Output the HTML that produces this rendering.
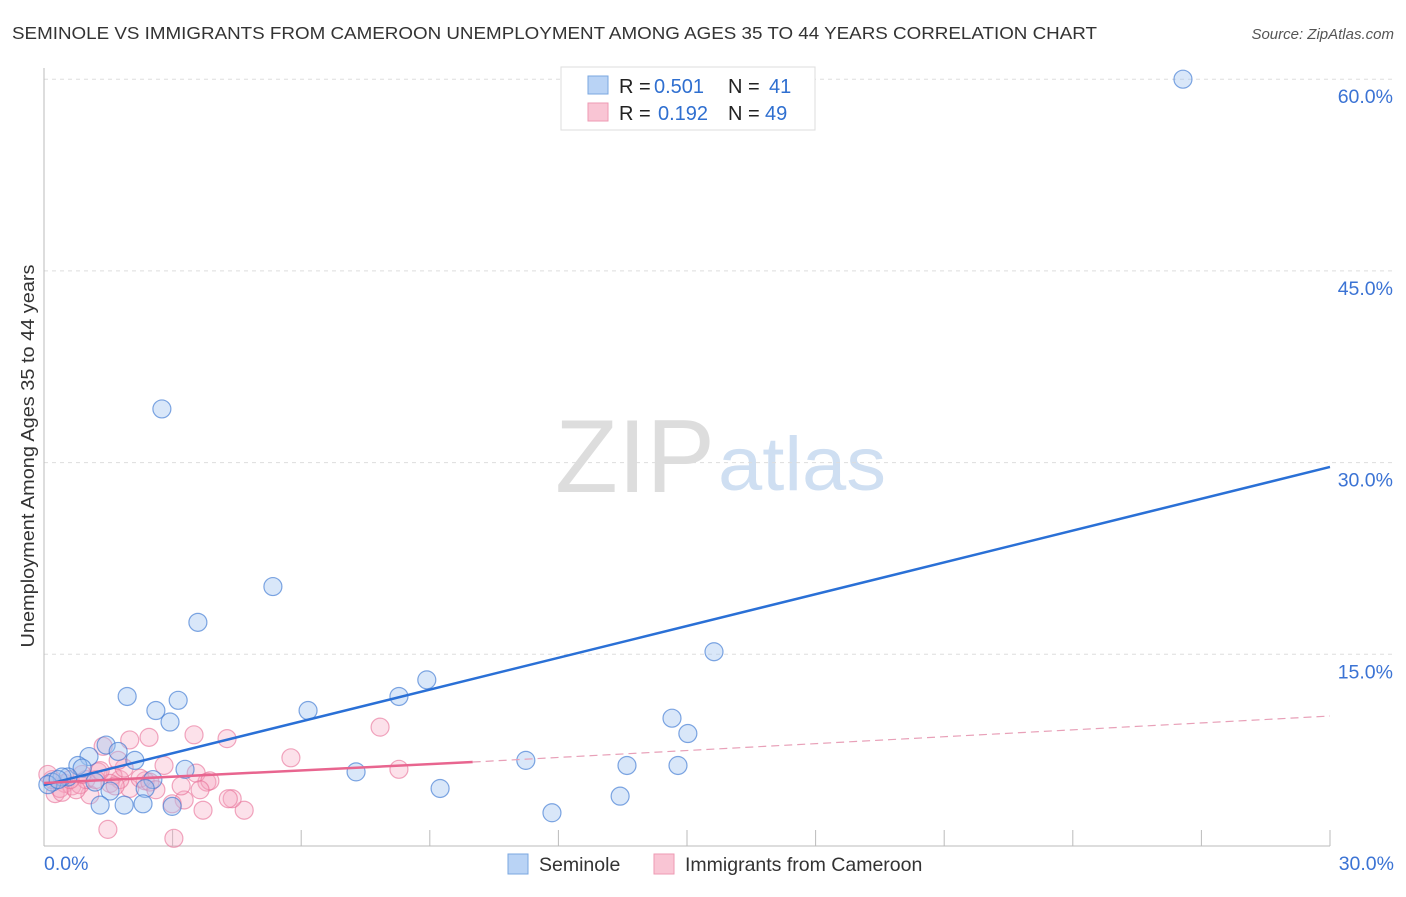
<!DOCTYPE html>
<html><head><meta charset="utf-8"><style>
body{margin:0;background:#fff;font-family:"Liberation Sans",sans-serif;}
svg text{font-family:"Liberation Sans",sans-serif;}
</style></head><body>
<svg id="c" width="1406" height="892">
<text x="12" y="39" font-size="17.5" fill="#333" textLength="1085" lengthAdjust="spacingAndGlyphs">SEMINOLE VS IMMIGRANTS FROM CAMEROON UNEMPLOYMENT AMONG AGES 35 TO 44 YEARS CORRELATION CHART</text>
<text x="1394" y="39" font-size="15" fill="#555" font-style="italic" text-anchor="end">Source: ZipAtlas.com</text>
<text x="635" y="492" font-size="104" fill="#ddd" font-family="Liberation Serif,serif" text-anchor="middle" textLength="160" lengthAdjust="spacingAndGlyphs">ZIP</text>
<text x="802" y="490" font-size="76" fill="#cfdff2" text-anchor="middle" textLength="168" lengthAdjust="spacingAndGlyphs">atlas</text>
<text transform="translate(34,456) rotate(-90)" font-size="18.5" fill="#333" text-anchor="middle" textLength="383" lengthAdjust="spacingAndGlyphs">Unemployment Among Ages 35 to 44 years</text>
<g id="grid"></g><g id="pts"></g><g id="lines"></g>
<g font-size="20">
<rect x="561" y="67" width="254" height="63" fill="#fff" stroke="#ddd"/>
<rect x="588" y="76" width="20" height="18" fill="#b9d3f5" stroke="#7aa7e0"/>
<rect x="588" y="103" width="20" height="18" fill="#f9c5d4" stroke="#ee9ab3"/>
<text x="619" y="93" fill="#222">R =</text><text x="654" y="93" fill="#2f6fd0">0.501</text>
<text x="728" y="93" fill="#222">N =</text><text x="769" y="93" fill="#2f6fd0">41</text>
<text x="619" y="120" fill="#222">R =</text><text x="658" y="120" fill="#2f6fd0">0.192</text>
<text x="728" y="120" fill="#222">N =</text><text x="765" y="120" fill="#2f6fd0">49</text>
</g>
<g>
<rect x="508" y="854" width="20" height="20" fill="#b9d3f5" stroke="#7aa7e0"/>
<text x="539" y="871" font-size="19.5" fill="#333">Seminole</text>
<rect x="654" y="854" width="20" height="20" fill="#f9c5d4" stroke="#ee9ab3"/>
<text x="685" y="871" font-size="19.5" fill="#333">Immigrants from Cameroon</text>
</g>
</svg>
<script>
const yTicks=[15,30,45,60];
const xTickLabels=["0.0%","30.0%"];
const blueX=[26.57,2.75,5.34,3.59,15.63,1.94,3.13,2.61,6.16,8.93,8.28,2.94,14.65,15.02,1.45,1.73,1.05,2.12,0.79,0.89,11.24,13.6,14.79,7.28,3.29,2.54,0.56,0.42,1.19,2.36,0.19,0.09,9.24,1.54,1.31,1.87,2.31,2.99,13.44,11.85,0.33];
const blueY=[60.0,34.2,20.3,17.5,15.2,11.7,11.4,10.6,10.6,13.0,11.7,9.7,10.0,8.8,7.9,7.4,7.0,6.7,6.3,6.1,6.7,6.3,6.3,5.8,6.0,5.2,5.4,5.4,5.0,4.5,5.0,4.8,4.5,4.3,3.2,3.2,3.3,3.1,3.9,2.6,5.2];
const pinkX=[3.03,1.49,4.67,3.71,4.39,4.3,3.27,2.99,1.07,0.26,2.0,3.2,3.8,2.36,1.77,1.61,1.26,3.55,2.8,1.87,5.76,8.28,1.73,1.38,2.0,2.45,3.5,4.27,7.84,0.49,0.65,0.84,0.37,0.98,2.24,2.47,1.54,3.87,0.19,0.09,0.42,0.75,1.21,0.61,1.66,3.64,2.61,1.31,0.89];
const pinkY=[0.6,1.3,2.8,2.8,3.7,3.7,3.6,3.3,4.0,4.1,4.5,4.7,5.0,5.1,5.2,5.5,5.8,5.7,6.3,6.1,6.9,6.0,6.7,7.8,8.3,8.5,8.7,8.4,9.3,4.9,4.7,4.8,4.5,5.2,5.3,5.0,4.9,5.1,5.2,5.6,4.2,4.4,5.2,5.2,4.7,4.4,4.4,5.9,5.6];
const blueLine=[0,4.77,30,29.66];
const pinkLine=[0,4.93,10,6.57,30,10.17];
const X=v=>44+v/30*1286, Y=v=>846-v/15*191.7;
const NS="http://www.w3.org/2000/svg";
function mk(t,a,p){const e=document.createElementNS(NS,t);for(const k in a)e.setAttribute(k,a[k]);p.appendChild(e);return e;}
const g=document.getElementById('grid');
yTicks.forEach(t=>{
 const l=mk('line',{x1:44,x2:1394,y1:Y(t),y2:Y(t),stroke:'#ddd','stroke-dasharray':'4,4'},g);
 
 
 const tx=mk('text',{x:1393,y:Y(t)+24,'font-size':19.5,fill:'#3b73d4','text-anchor':'end'},g);
 tx.textContent=t.toFixed(1)+'%';
 
 
});
mk('line',{x1:44,x2:44,y1:68,y2:846,stroke:'#bbb'},g);
mk('line',{x1:44,x2:1330,y1:846,y2:846,stroke:'#bbb'},g);
for(let i=1;i<=10;i++){const t=mk('line',{x1:X(i*3),x2:X(i*3),y1:830,y2:846,stroke:'#bbb'},g);
 
 }
const xl0=mk('text',{x:44,y:870,'font-size':19.5,fill:'#3b73d4'},g);xl0.textContent=xTickLabels[0];


const xl1=mk('text',{x:1394,y:870,'font-size':19.5,fill:'#3b73d4','text-anchor':'end'},g);xl1.textContent=xTickLabels[1];


const P=document.getElementById('pts');
pinkX.forEach((x,i)=>{const c=mk('circle',{cx:X(x),cy:Y(pinkY[i]),r:9,fill:'rgba(246,170,195,0.35)',stroke:'rgba(232,110,150,0.6)','stroke-width':1.2},P);
 
 });
blueX.forEach((x,i)=>{const c=mk('circle',{cx:X(x),cy:Y(blueY[i]),r:9,fill:'rgba(160,195,240,0.4)',stroke:'rgba(60,120,210,0.65)','stroke-width':1.2},P);
 
 });
const L=document.getElementById('lines');
const bl=mk('line',{x1:X(blueLine[0]),y1:Y(blueLine[1]),x2:X(blueLine[2]),y2:Y(blueLine[3]),stroke:'#2a70d6','stroke-width':2.5},L);


const pl=mk('line',{x1:X(pinkLine[0]),y1:Y(pinkLine[1]),x2:X(pinkLine[2]),y2:Y(pinkLine[3]),stroke:'#e8658f','stroke-width':2.5},L);


const pd=mk('line',{x1:X(pinkLine[2]),y1:Y(pinkLine[3]),x2:X(pinkLine[4]),y2:Y(pinkLine[5]),stroke:'#e8a0b8','stroke-width':1.2,'stroke-dasharray':'8,5'},L);


</script>
</body></html>
